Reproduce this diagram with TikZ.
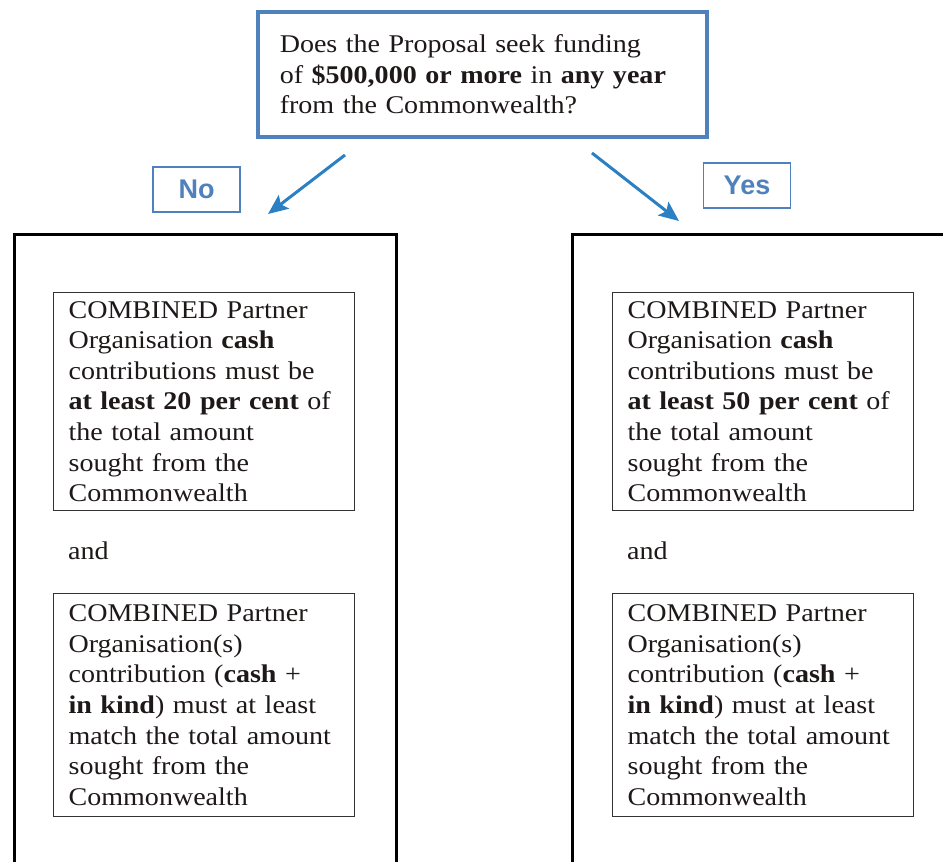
\documentclass[tikz,border=0pt]{standalone}
\usepackage{fontspec}
\setmainfont{Liberation Serif}[FakeStretch=1.1]
\newfontfamily\labelfont{Liberation Sans}
\usetikzlibrary{arrows.meta, calc, positioning}
\definecolor{qblue}{RGB}{79,129,189}
\definecolor{arrowblue}{RGB}{43,128,196}
\definecolor{textdark}{RGB}{30,24,24}
\tikzstyle{question} = [rectangle, draw=qblue, line width=3.5pt, minimum width=449pt, minimum height=125pt, text width=405pt, inner xsep=22pt, inner ysep=0pt, align=left, text=textdark]
\tikzstyle{answer} = [rectangle, draw=qblue, line width=1.5pt, minimum width=87pt, minimum height=45pt, inner sep=0pt, text=qblue, font=\labelfont\bfseries\fontsize{27}{30}\selectfont]
\tikzstyle{outerframe} = [rectangle, draw=black, line width=2.8pt, minimum height=700pt, inner sep=0pt]
\tikzstyle{condition} = [rectangle, draw=black!80, line width=1.2pt, minimum width=301pt, text width=271pt, inner xsep=15pt, inner ysep=0pt, align=left, text=textdark]
\tikzstyle{arrow} = [line width=3pt, draw=arrowblue, -{Stealth[length=20pt, width=17pt, inset=4pt]}]

\begin{document}
\begin{tikzpicture}[x=1pt, y=-1pt, font=\fontsize{25.5}{30.6}\selectfont]
		\clip (0,0) rectangle (943,862);
		\fill [white] (0,0) rectangle (943,862);
		% question and answers
		\node (Question) [question, anchor=north west] at (256,10) {Does the Proposal seek funding\\ of \textbf{\$500,000 or more} in \textbf{any year}\\ from the Commonwealth?};
		\node (No) [answer] at (196.5,189.5) {No};
		\node (Yes) [answer] at (747,185.5) {Yes};
		\coordinate (NoStart) at (345,155);
		\coordinate (NoEnd) at (268,214);
		\coordinate (YesStart) at (592,153);
		\coordinate (YesEnd) at (679,221);
		\draw [arrow] (NoStart) -- (NoEnd);
		\draw [arrow] (YesStart) -- (YesEnd);
		% left column
		\node (NoFrame) [outerframe, minimum width=382pt, anchor=north west] at (13,233) {};
		\node (NoCash) [condition, minimum height=218pt, anchor=north west] at (53,292) {COMBINED Partner\\ Organisation \textbf{cash}\\ contributions must be\\ \textbf{at least 20 per cent} of\\ the total amount\\ sought from the\\ Commonwealth};
		\node (NoAnd) [anchor=base west, inner sep=0pt, text=textdark] at (68,559) {and};
		\node (NoMatch) [condition, minimum height=223pt, anchor=north west] at (53,593) {COMBINED Partner\\ Organisation(s)\\ contribution (\textbf{cash} +\\ \textbf{in kind}) must at least\\ match the total amount\\ sought from the\\ Commonwealth};
		% right column
		\node (YesFrame) [outerframe, minimum width=450pt, anchor=north west] at (571,233) {};
		\node (YesCash) [condition, minimum height=218pt, anchor=north west] at (612,292) {COMBINED Partner\\ Organisation \textbf{cash}\\ contributions must be\\ \textbf{at least 50 per cent} of\\ the total amount\\ sought from the\\ Commonwealth};
		\node (YesAnd) [anchor=base west, inner sep=0pt, text=textdark] at (627,559) {and};
		\node (YesMatch) [condition, minimum height=223pt, anchor=north west] at (612,593) {COMBINED Partner\\ Organisation(s)\\ contribution (\textbf{cash} +\\ \textbf{in kind}) must at least\\ match the total amount\\ sought from the\\ Commonwealth};
	\end{tikzpicture}
\end{document}
